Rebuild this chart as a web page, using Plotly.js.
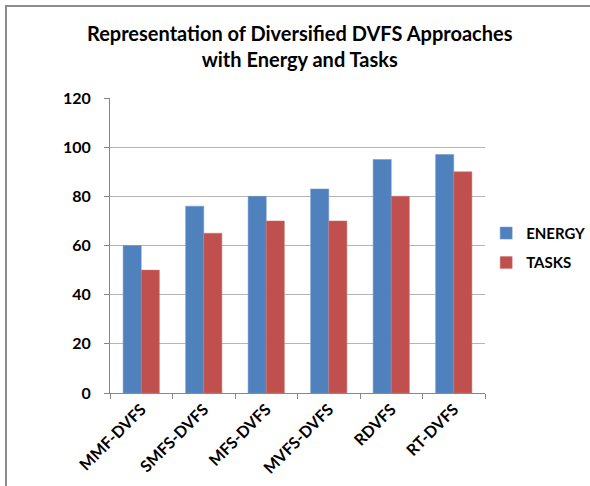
<!DOCTYPE html>
<html>
<head>
<meta charset="utf-8">
<script src="https://cdn.plot.ly/plotly-3.0.1.min.js"></script>
<style>
  html, body { margin: 0; padding: 0; background: #fff; }
  #wrap { position: relative; width: 590px; height: 486px; }
  #chart { width: 590px; height: 486px; }
  #frame { position: absolute; left: 5px; top: 5px; right: 0; bottom: -10px;
           border-left: 2px solid #8c8c8c; border-top: 2px solid #8c8c8c; pointer-events: none; }
</style>
</head>
<body>
<div id="wrap"><div id="chart"></div><div id="frame"></div></div>
<script>
const categories = ["MMF-DVFS", "SMFS-DVFS", "MFS-DVFS", "MVFS-DVFS", "RDVFS", "RT-DVFS"];
const energy = [60, 76, 80, 83, 95, 97];
const tasks = [50, 65, 70, 70, 80, 90];
const yTicks = [0, 20, 40, 60, 80, 100, 120];

const fontFam = "Lato, 'Open Sans', sans-serif";

const traces = [
  { type: "bar", name: "ENERGY", x: categories, y: energy, legendgroup: "e",
    marker: { color: "#4F81BD", line: { color: "#6f95c8", width: 0.5 } } },
  { type: "bar", name: "TASKS", x: categories, y: tasks, legendgroup: "t",
    marker: { color: "#C0504D", line: { color: "#cf7572", width: 0.5 } } }
];

const layout = {
  width: 590, height: 486,
  margin: { l: 110, r: 105, t: 98, b: 93 },
  paper_bgcolor: "#fff", plot_bgcolor: "#fff",
  barmode: "group", bargap: 0.42, bargroupgap: 0,
  showlegend: true,
  title: {
    text: "<b>Representation of Diversified DVFS Approaches<br>with Energy and Tasks</b>",
    font: { family: fontFam, size: 20, color: "#000" },
    x: 0.508, xanchor: "center", y: 0.915, yanchor: "middle"
  },
  legend: {
    xref: "container", yref: "container",
    x: 0.824, xanchor: "left", y: 0.49, yanchor: "middle",
    font: { family: fontFam, size: 15, color: "#000", weight: "bold" },
    itemwidth: 30, traceorder: "grouped", tracegroupgap: 7, bgcolor: "rgba(0,0,0,0)"
  },
  xaxis: {
    type: "category",
    tickangle: -45,
    tickson: "boundaries",
    ticks: "outside", ticklen: 5, tickcolor: "#868686",
    showline: true, linecolor: "#868686", linewidth: 1,
    showgrid: false,
    tickfont: { family: fontFam, size: 16, color: "#000", weight: "bold" }
  },
  yaxis: {
    range: [0, 120],
    tickvals: yTicks,
    ticktext: yTicks.map(String),
    ticks: "outside", ticklen: 5, tickcolor: "#868686",
    showline: true, linecolor: "#868686", linewidth: 1,
    showgrid: true, gridcolor: "#b5b5b5", gridwidth: 1,
    zeroline: false,
    tickfont: { family: fontFam, size: 16, color: "#000", weight: "bold" },
    ticklabelstandoff: 10
  }
};

Plotly.newPlot("chart", traces, layout, { displayModeBar: false, staticPlot: true });
</script>
</body>
</html>
